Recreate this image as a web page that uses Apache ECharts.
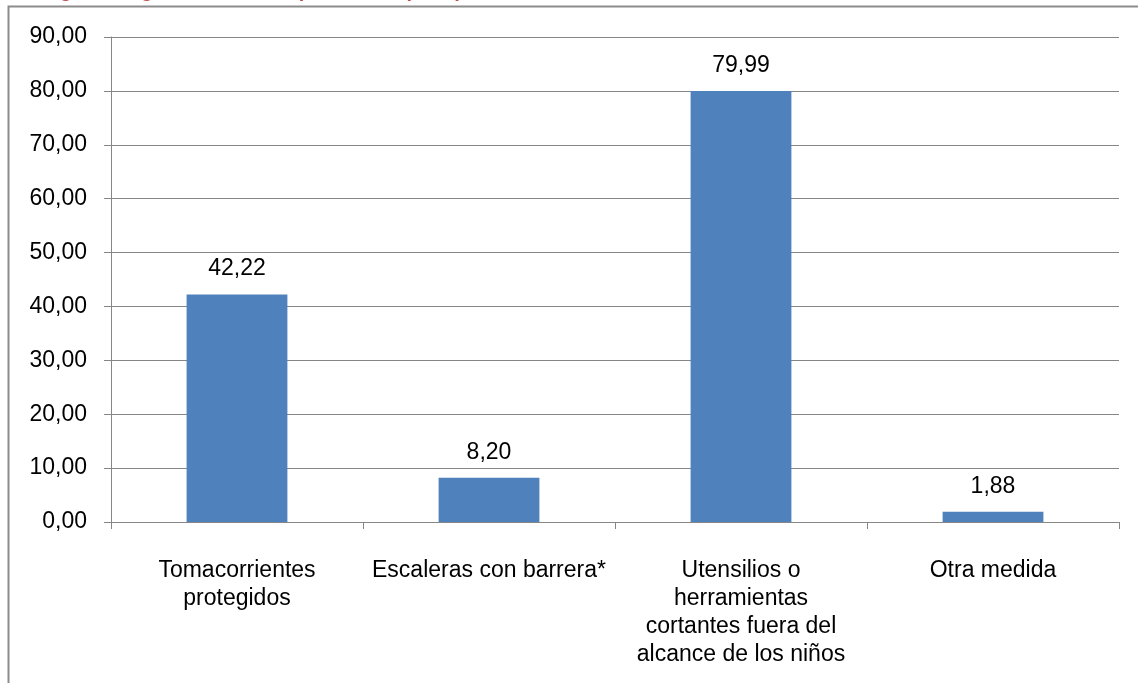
<!DOCTYPE html>
<html>
<head>
<meta charset="utf-8">
<script src="https://cdn.jsdelivr.net/npm/echarts@6/dist/echarts.min.js"></script>
<style>
html,body{margin:0;padding:0;background:#fff;}
#chart{width:1138px;height:683px;}
</style>
</head>
<body>
<div id="chart"></div>
<script>
const categories = [
  "Tomacorrientes protegidos",
  "Escaleras con barrera*",
  "Utensilios o herramientas cortantes fuera del alcance de los niños",
  "Otra medida"
];
const categoryLabels = [
  "Tomacorrientes\nprotegidos",
  "Escaleras con barrera*",
  "Utensilios o\nherramientas\ncortantes fuera del\nalcance de los niños",
  "Otra medida"
];
const values = [42.22, 8.20, 79.99, 1.88];
const yMin = 0, yMax = 90, yStep = 10;
const titleText = "Hogares según medidas de protección para prevenir accidentes";

const fmt = v => v.toFixed(2).replace('.', ',');
const FONT = "'Liberation Sans', Arial, sans-serif";

const chart = echarts.init(document.getElementById('chart'));
chart.setOption({
  animation: false,
  textStyle: { fontFamily: FONT },
  title: {
    text: titleText,
    left: 28, top: -24,
    textStyle: { color: '#C0504D', fontWeight: 'bold', fontSize: 20, fontFamily: FONT }
  },
  graphic: [{
    type: 'rect', silent: true,
    shape: { x: 8.5, y: 6.5, width: 1200, height: 800 },
    style: { fill: '#fff', stroke: '#8c8c8c', lineWidth: 2 },
    z: -1
  }],
  grid: { left: 111, top: 37, right: 19, bottom: 161, containLabel: false },
  xAxis: {
    type: 'category',
    data: categories,
    axisLine: { lineStyle: { color: '#868686', width: 1 } },
    axisTick: { show: true, length: 7, alignWithLabel: false, lineStyle: { color: '#868686' } },
    axisLabel: {
      interval: 0, margin: 35, color: '#000', fontSize: 23, lineHeight: 28,
      fontFamily: FONT,
      formatter: (v, i) => categoryLabels[i]
    }
  },
  yAxis: {
    type: 'value', min: yMin, max: yMax, interval: yStep,
    axisLine: { show: true, lineStyle: { color: '#868686', width: 1 } },
    axisTick: { show: true, length: 7, lineStyle: { color: '#868686' } },
    splitLine: { lineStyle: { color: '#868686', width: 1 } },
    axisLabel: { margin: 24, color: '#000', fontSize: 23, fontFamily: FONT, formatter: v => fmt(v) }
  },
  series: [{
    type: 'bar',
    data: values,
    barWidth: '40%',
    itemStyle: { color: '#4F81BD' },
    label: {
      show: true, position: 'top', distance: 14, color: '#000', fontSize: 23,
      fontFamily: FONT, formatter: p => fmt(p.value)
    }
  }]
});
</script>
</body>
</html>
